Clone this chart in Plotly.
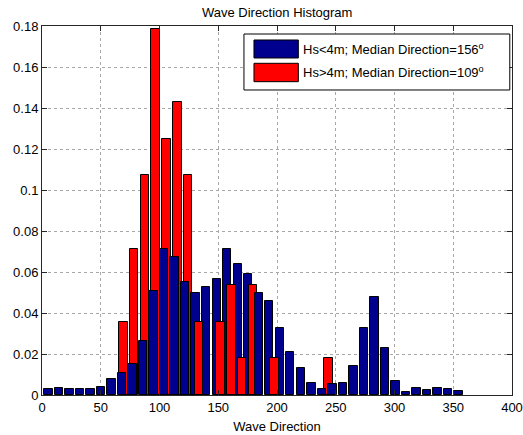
import plotly.graph_objects as go

# Normalised histogram of wave direction, two significant-wave-height classes
blue_centers = [5.5, 14.4, 23.4, 32.3, 41.3, 50.2, 59.2, 68.1, 77.1, 86.0,
                95.0, 103.9, 112.9, 121.8, 130.8, 139.7, 148.7, 157.6, 166.6, 175.5,
                184.5, 193.4, 202.4, 211.3, 220.3, 229.2, 238.2, 247.1, 256.1, 265.0,
                274.0, 282.9, 291.9, 300.8, 309.8, 318.7, 327.7, 336.6, 345.6, 354.5]
blue_values = [0.0028, 0.0036, 0.0028, 0.0028, 0.0028, 0.0041, 0.0077, 0.0106, 0.0151, 0.0265,
               0.0509, 0.0711, 0.0675, 0.0551, 0.0499, 0.0528, 0.0564, 0.0711, 0.0639, 0.0590,
               0.0496, 0.0460, 0.0325, 0.0211, 0.0133, 0.0060, 0.0028, 0.0052, 0.0057, 0.0141,
               0.0325, 0.0480, 0.0228, 0.0070, 0.0013, 0.0033, 0.0026, 0.0033, 0.0028, 0.0021]

red_centers = [69.2, 78.4, 87.6, 96.8, 106.0, 115.2, 124.3, 133.5, 142.7, 151.9,
               161.1, 170.3, 179.5, 188.7, 197.9, 207.1, 216.2, 225.4, 234.6, 243.8]
red_values = [0.0357, 0.0714, 0.1071, 0.1786, 0.1250, 0.1429, 0.1071, 0.0357, 0.0, 0.0357,
              0.0536, 0.0179, 0.0536, 0.0, 0.0179, 0.0, 0.0, 0.0, 0.0, 0.0179]

blue_label = "Hs<4m; Median Direction=156<sup>o</sup>"
red_label = "Hs>4m; Median Direction=109<sup>o</sup>"

x_ticks = [0, 50, 100, 150, 200, 250, 300, 350, 400]
y_ticks = [0, 0.02, 0.04, 0.06, 0.08, 0.1, 0.12, 0.14, 0.16, 0.18]

BLUE = "#00008f"
RED = "#ff0000"
FONT = "Liberation Sans, Arial, sans-serif"

# bar width = 0.8 of each histogram's bin spacing
blue_w = 0.8 * 8.95
red_w = 0.8 * 9.19

bars = [(c, v, BLUE, blue_w) for c, v in zip(blue_centers, blue_values) if v > 0]
bars += [(c, v, RED, red_w) for c, v in zip(red_centers, red_values) if v > 0]
# taller bars go to the back so shorter ones stay visible in front
bars.sort(key=lambda b: -b[1])

fig = go.Figure()
for c, v, col, w in bars:
    fig.add_trace(go.Bar(
        x=[c], y=[v], width=w,
        marker=dict(color=col, line=dict(color="#000000", width=1)),
        showlegend=False, hoverinfo="x+y",
    ))

# legend box drawn in paper coordinates
lx0, lx1, ly0, ly1 = 0.4297, 0.9953, 0.8266, 0.9783
sw_x0, sw_x1 = 0.4510, 0.5454
shapes = [
    dict(type="rect", xref="paper", yref="paper", x0=lx0, x1=lx1, y0=ly0, y1=ly1,
         line=dict(color="#000000", width=1), fillcolor="#ffffff", layer="above"),
    dict(type="rect", xref="paper", yref="paper", x0=sw_x0, x1=sw_x1, y0=0.9133, y1=0.9621,
         line=dict(color="#000000", width=1), fillcolor=BLUE, layer="above"),
    dict(type="rect", xref="paper", yref="paper", x0=sw_x0, x1=sw_x1, y0=0.8491, y1=0.8989,
         line=dict(color="#000000", width=1), fillcolor=RED, layer="above"),
]
annotations = [
    dict(xref="paper", yref="paper", x=0.5511, y=0.9377, text=blue_label, showarrow=False,
         xanchor="left", yanchor="middle", font=dict(family=FONT, size=13, color="#000000")),
    dict(xref="paper", yref="paper", x=0.5511, y=0.8740, text=red_label, showarrow=False,
         xanchor="left", yanchor="middle", font=dict(family=FONT, size=13, color="#000000")),
]

axis_common = dict(
    showgrid=True, gridcolor="#a8a8a8", griddash="dot", gridwidth=1,
    showline=True, linecolor="#262626", linewidth=1, mirror="ticks",
    ticks="inside", ticklen=5, tickcolor="#262626",
    zeroline=False, tickfont=dict(family=FONT, size=13, color="#000000"),
    automargin=False,
)

fig.update_layout(
    width=523, height=435,
    margin=dict(l=42, r=11, t=26, b=40),
    paper_bgcolor="#ffffff", plot_bgcolor="#ffffff",
    barmode="overlay", bargap=0,
    showlegend=False,
    title=dict(text="Wave Direction Histogram", x=0.53, xanchor="center", y=0.972, yanchor="middle",
               font=dict(family=FONT, size=13, color="#000000")),
    xaxis=dict(range=[0, 400], tickvals=x_ticks, ticktext=[str(t) for t in x_ticks],
               title=dict(text="Wave Direction", font=dict(family=FONT, size=13, color="#000000"),
                          standoff=8),
               **axis_common),
    yaxis=dict(range=[0, 0.18], tickvals=y_ticks,
               ticktext=["0", "0.02", "0.04", "0.06", "0.08", "0.1", "0.12", "0.14", "0.16", "0.18"],
               **axis_common),
    shapes=shapes, annotations=annotations,
)

fig.write_html("out.html")
